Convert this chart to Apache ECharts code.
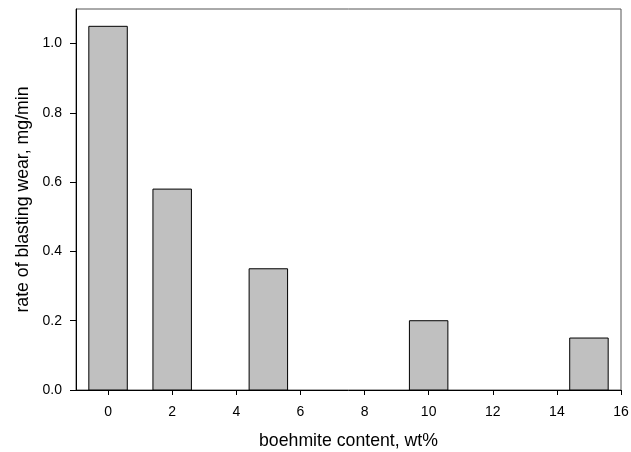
<!DOCTYPE html>
<html>
<head>
<meta charset="utf-8">
<script src="https://cdn.jsdelivr.net/npm/echarts@6/dist/echarts.min.js"></script>
<style>
  html, body { margin: 0; padding: 0; background: #fff; }
  #chart { width: 631px; height: 452px; }
</style>
</head>
<body>
<div id="chart"></div>
<script>
// Boehmite content (wt%) and measured blasting wear rate (mg/min)
const boehmiteContent = [0, 2, 5, 10, 15];
const wearRate = [1.05, 0.58, 0.35, 0.20, 0.15];
const xTicks = [0, 2, 4, 6, 8, 10, 12, 14, 16];
const yTicks = [0.0, 0.2, 0.4, 0.6, 0.8, 1.0];

const BAR_HALF_WIDTH = 0.6; // in x-axis units

const chart = echarts.init(document.getElementById('chart'), null, { renderer: 'canvas' });
const font = 'Liberation Sans, Arial, sans-serif';

chart.setOption({
  animation: false,
  backgroundColor: '#fff',
  grid: {
    left: 76, top: 9, right: 10, bottom: 62,
    containLabel: false, outerBoundsMode: 'none',
    show: true, borderColor: '#555', borderWidth: 1, backgroundColor: 'transparent'
  },
  xAxis: {
    type: 'value', min: -1, max: 16, interval: 1,
    name: 'boehmite content, wt%', nameLocation: 'middle', nameGap: 42,
    nameTextStyle: { fontFamily: font, fontSize: 17.7, color: '#000' },
    axisLine: { show: true, onZero: false, lineStyle: { color: '#000', width: 1 } },
    axisTick: { show: true, length: 5, lineStyle: { color: '#000' }, customValues: xTicks },
    axisLabel: {
      fontFamily: font, fontSize: 14, color: '#000', margin: 15,
      customValues: xTicks,
      formatter: v => String(v)
    },
    splitLine: { show: false }
  },
  yAxis: {
    type: 'value', min: 0, max: 1.1,
    name: 'rate of blasting wear, mg/min', nameLocation: 'middle', nameGap: 42,
    nameTextStyle: { fontFamily: font, fontSize: 17.7, color: '#000' },
    axisLine: { show: true, onZero: false, lineStyle: { color: '#000', width: 1 } },
    axisTick: { show: true, length: 6, lineStyle: { color: '#000' }, customValues: yTicks },
    axisLabel: {
      fontFamily: font, fontSize: 14, color: '#000', margin: 14,
      customValues: yTicks,
      formatter: v => v.toFixed(1)
    },
    splitLine: { show: false }
  },
  series: [{
    type: 'custom',
    data: boehmiteContent.map((x, i) => [x, wearRate[i]]),
    renderItem: function (params, api) {
      const x = api.value(0), y = api.value(1);
      const p0 = api.coord([x - BAR_HALF_WIDTH, y]);
      const p1 = api.coord([x + BAR_HALF_WIDTH, 0]);
      return {
        type: 'rect',
        shape: { x: p0[0], y: p0[1], width: p1[0] - p0[0], height: p1[1] - p0[1] },
        style: { fill: '#c0c0c0', stroke: '#000', lineWidth: 1 }
      };
    }
  }]
});
</script>
</body>
</html>
